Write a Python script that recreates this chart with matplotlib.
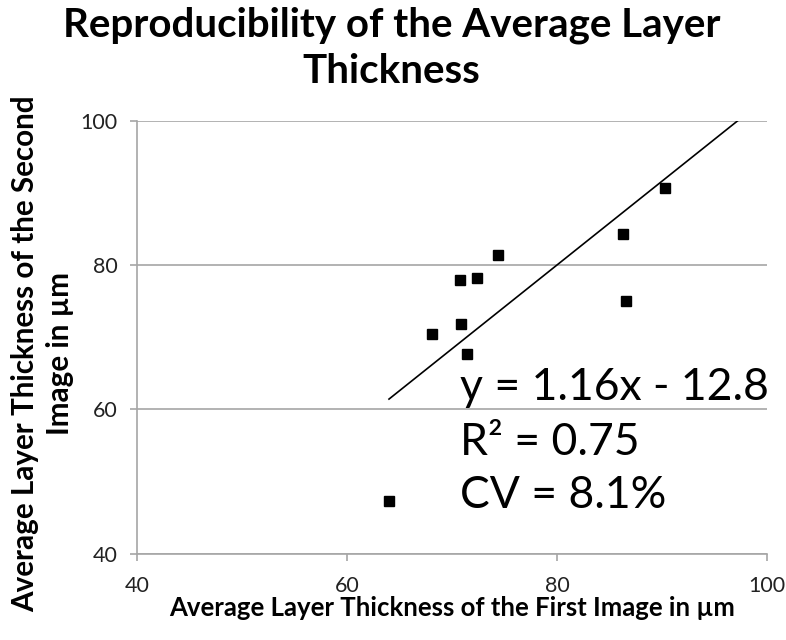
import matplotlib
matplotlib.use("Agg")
import matplotlib.pyplot as plt
import numpy as np

plt.rcParams['font.family'] = ['Lato', 'DejaVu Sans']

first_image = [64.0, 68.1, 70.8, 72.4, 70.9, 71.4, 74.4, 86.3, 86.6, 90.3]
second_image = [47.4, 70.5, 77.9, 78.2, 71.9, 67.7, 81.4, 84.3, 75.0, 90.7]
slope = 1.16
intercept = -12.8
r_squared = 0.75
cv_percent = 8.1
x_ticks = [40, 60, 80, 100]
y_ticks = [40, 60, 80, 100]

fig = plt.figure(figsize=(7.86, 6.4), dpi=100)
ax = fig.add_axes([0.1743, 0.1344, 0.8015, 0.6773])

ax.set_xlim(40, 100)
ax.set_ylim(40, 100)
ax.set_xticks(x_ticks)
ax.set_yticks(y_ticks)

ax.grid(axis='y', color='#a6a6a6', linewidth=1.2)
ax.set_axisbelow(True)
for s in ['top', 'right']:
    ax.spines[s].set_visible(False)
for s in ['left', 'bottom']:
    ax.spines[s].set_color('#a6a6a6')
    ax.spines[s].set_linewidth(1.2)
ax.tick_params(axis='both', colors='#a6a6a6', length=5, width=1.2,
               labelcolor='#222222', labelsize=15.5)
ax.tick_params(axis='x', pad=11)
ax.tick_params(axis='y', pad=9)

# trendline, clipped at the top of the value axis as in the source
x0 = min(first_image)
x1 = (max(y_ticks) - intercept) / slope
xs = np.array([x0, x1])
ax.plot(xs, slope * xs + intercept, color='black', linewidth=1.2, zorder=2)

ax.plot(first_image, second_image, linestyle='none', marker='s',
        markersize=7.5, color='black', zorder=3)

ax.text(70.8, 63.0, f"y = {slope:.2f}x - {abs(intercept):.1f}", fontsize=32,
        va='center', ha='left', color='black')
ax.text(70.8, 55.4, f"R² = {r_squared:.2f}", fontsize=32,
        va='center', ha='left', color='black')
ax.text(70.8, 48.1, f"CV = {cv_percent:.1f}%", fontsize=32,
        va='center', ha='left', color='black')

fig.text(0.498, 0.99, "Reproducibility of the Average Layer\nThickness",
         ha='center', va='top', fontsize=29, fontweight='bold',
         linespacing=1.3)

fig.text(0.575, 0.05, "Average Layer Thickness of the First Image in µm",
         ha='center', va='center', fontsize=18.5, fontweight='bold')
fig.text(0.054, 0.448, "Average Layer Thickness of the Second\nImage in µm",
         ha='center', va='center', rotation=90, fontsize=21.3,
         fontweight='bold', linespacing=1.3)

fig.savefig("out.png", dpi=100)
